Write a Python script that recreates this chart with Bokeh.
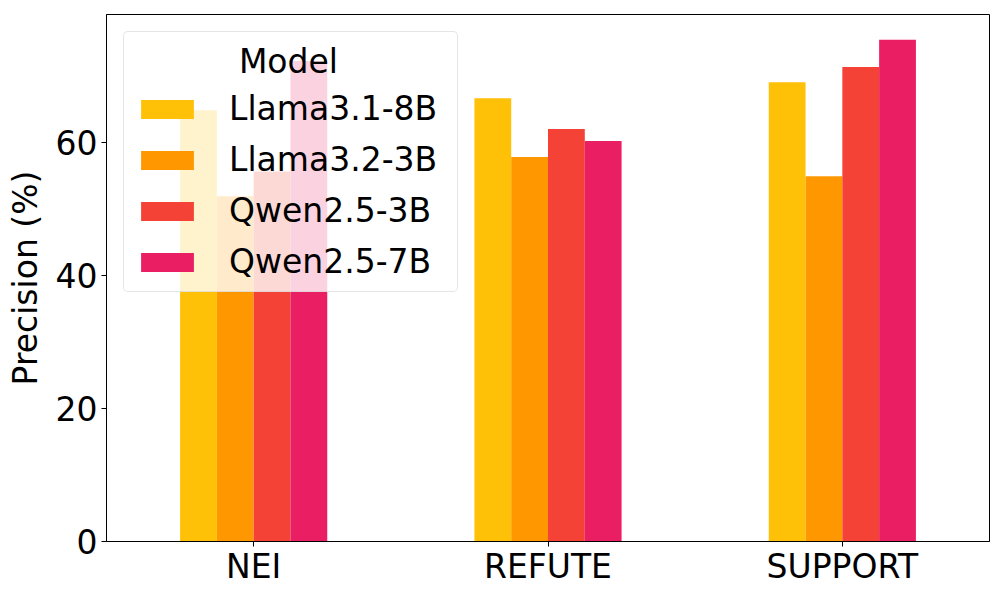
from bokeh.plotting import figure
from bokeh.models import ColumnDataSource, FactorRange, Range1d, Legend, LegendItem, FixedTicker
from bokeh.transform import dodge
from bokeh.embed import file_html
from bokeh.resources import INLINE

categories = ["NEI", "REFUTE", "SUPPORT"]
models = ["Llama3.1-8B", "Llama3.2-3B", "Qwen2.5-3B", "Qwen2.5-7B"]
llama31_8b = [64.8, 66.6, 69.0]
llama32_3b = [51.9, 57.8, 54.9]
qwen25_3b = [55.6, 62.0, 71.3]
qwen25_7b = [72.2, 60.2, 75.4]
colors = ["#FFC107", "#FF9800", "#F44336", "#E91E63"]

series = [llama31_8b, llama32_3b, qwen25_3b, qwen25_7b]
data = {"cat": categories}
keys = ["m0", "m1", "m2", "m3"]
for k, s in zip(keys, series):
    data[k] = s
source = ColumnDataSource(data)

FONT = "DejaVu Sans"
FS = "33px"

p = figure(x_range=FactorRange(*categories, range_padding=0), y_range=Range1d(0, 79.2),
           frame_width=883, frame_height=527, output_backend="svg", toolbar_location=None,
           min_border_left=106, min_border_right=3, min_border_top=14, min_border_bottom=51)

offsets = [-0.1875, -0.0625, 0.0625, 0.1875]
renderers = []
for k, off, c in zip(keys, offsets, colors):
    r = p.vbar(x=dodge("cat", off, range=p.x_range), top=k, width=0.125, source=source,
               fill_color=c, line_color=None)
    renderers.append(r)

legend = Legend(items=[LegendItem(label=m, renderers=[r]) for m, r in zip(models, renderers)],
                location="top_left", title="\u00a0" * 10 + "Model")
legend.title_text_font = FONT
legend.title_text_font_size = FS
legend.title_text_font_style = "normal"
legend.title_text_color = "black"
legend.title_standoff = 8
legend.label_text_font = FONT
legend.label_text_font_size = FS
legend.label_text_color = "black"
legend.glyph_width = 66
legend.glyph_height = 24
legend.label_standoff = 29
legend.label_width = 218
legend.spacing = 12
legend.padding = 10
legend.margin = 17
legend.background_fill_alpha = 0.8
legend.border_line_color = "#cccccc"
legend.border_line_width = 1
legend.border_radius = 5
p.add_layout(legend)

p.xgrid.visible = False
p.ygrid.visible = False
p.outline_line_color = "black"
p.outline_line_width = 1
p.outline_line_alpha = 1

for ax in (p.xaxis[0], p.yaxis[0]):
    ax.axis_line_color = "black"
    ax.major_tick_line_color = "black"
    ax.major_tick_out = 5
    ax.major_tick_in = 0
    ax.minor_tick_line_color = None
    ax.major_label_text_font = FONT
    ax.major_label_text_font_size = FS
    ax.major_label_text_color = "black"
    ax.axis_label_text_font = FONT
    ax.axis_label_text_font_size = FS
    ax.axis_label_text_font_style = "normal"
    ax.axis_label_text_color = "black"

p.yaxis[0].ticker = FixedTicker(ticks=[0, 20, 40, 60])
p.yaxis[0].axis_label = "Precision (%)"
p.yaxis[0].major_label_standoff = 4
p.yaxis[0].axis_label_standoff = 8
p.xaxis[0].major_label_standoff = 0

open("out.html", "w").write(file_html(p, INLINE))
